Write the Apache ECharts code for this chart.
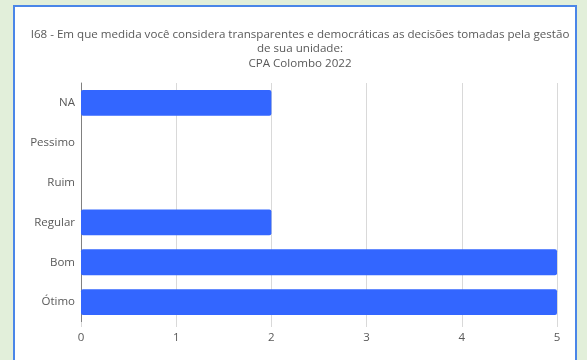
<!DOCTYPE html>
<html><head><meta charset="utf-8">
<script src="https://cdn.jsdelivr.net/npm/echarts@6/dist/echarts.min.js"></script>
<style>html,body{margin:0;padding:0;background:#e2efda;}#c{width:587px;height:360px;}</style>
</head><body><div id="c"></div>
<script>
const categories = ['Ótimo', 'Bom', 'Regular', 'Ruim', 'Pessimo', 'NA'];
const values = [5, 5, 2, 0, 0, 2];
const xTicks = [0, 1, 2, 3, 4, 5];
const titleText = 'I68 - Em que medida você considera transparentes e democráticas as decisões tomadas pela gestão\nde sua unidade:\nCPA Colombo 2022';

const chart = echarts.init(document.getElementById('c'));
const font = '"Open Sans", sans-serif';
chart.setOption({
  backgroundColor: '#e2efda',
  animation: false,
  graphic: [
    {type: 'rect', shape: {x: 14, y: 6, width: 562, height: 360}, style: {fill: '#ffffff', stroke: '#4a86e8', lineWidth: 2}, z: -10}
  ],
  title: {
    text: titleText,
    left: 295, textAlign: 'center', top: 22,
    textStyle: {fontFamily: font, fontSize: 11.6, fontWeight: 'normal', color: '#595959', lineHeight: 14.5}
  },
  grid: {left: 81, right: 30, top: 83, bottom: 38, containLabel: false},
  xAxis: {
    type: 'value', min: 0, max: 5, interval: 1,
    axisLine: {show: false},
    axisTick: {show: true, length: 5, lineStyle: {color: '#d9d9d9'}},
    splitLine: {show: true, lineStyle: {color: '#d9d9d9', width: 1}},
    axisLabel: {fontFamily: font, fontSize: 11.5, color: '#595959', margin: 10,
      formatter: v => xTicks.includes(v) ? String(v) : ''}
  },
  yAxis: {
    type: 'category', data: categories,
    axisLine: {show: true, lineStyle: {color: '#808080', width: 1}},
    axisTick: {show: false},
    axisLabel: {fontFamily: font, fontSize: 11.5, color: '#595959', margin: 6}
  },
  series: [{
    type: 'bar', data: values, barCategoryGap: '35%',
    itemStyle: {color: '#3366ff', borderRadius: 2}
  }]
});
</script></body></html>
